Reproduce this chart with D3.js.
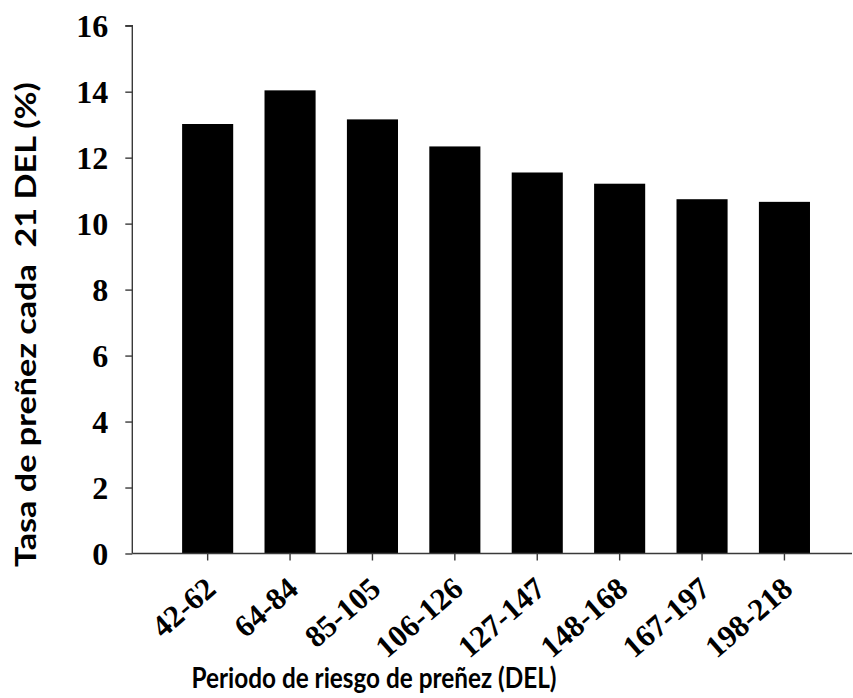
<!DOCTYPE html>
<html>
<head>
<meta charset="utf-8">
<script src="https://cdn.jsdelivr.net/npm/d3@7"></script>
<style>
  html, body { margin: 0; padding: 0; background: #fff; }
  svg { display: block; }
</style>
</head>
<body>
<svg id="chart" width="853" height="698"></svg>
<script>
const categories = ["42-62", "64-84", "85-105", "106-126", "127-147", "148-168", "167-197", "198-218"];
const values = [13.02, 14.04, 13.16, 12.34, 11.55, 11.21, 10.74, 10.66];
const yTicks = [0, 2, 4, 6, 8, 10, 12, 14, 16];
const yTitle = "Tasa de preñez cada  21 DEL (%)";
const xTitle = "Periodo de riesgo de preñez (DEL)";

const svg = d3.select("#chart");
const axisX0 = 132.3, axisXEnd = 852;
const yTop = 25.7, yBottom = 553.5;

const x = d3.scaleBand().domain(categories).range([150.8, 841.3]).paddingInner(0.38).paddingOuter(0.38);
const y = d3.scaleLinear().domain([0, 16]).range([yBottom, yTop]);

const lineColor = "#3a3a3a";

// bars
svg.append("g").selectAll("rect").data(values).join("rect")
  .attr("x", (d, i) => x(categories[i]))
  .attr("y", d => y(d))
  .attr("width", x.bandwidth())
  .attr("height", d => y(0) - y(d))
  .attr("fill", "#000");

// y axis
const yAxis = svg.append("g").attr("transform", `translate(${axisX0},0)`)
  .call(d3.axisLeft(y).tickValues(yTicks).tickSize(7).tickPadding(17).tickFormat(d3.format("d")));
yAxis.attr("font-size", null).attr("font-family", null);
yAxis.select(".domain").attr("stroke", lineColor).attr("stroke-width", 1.4).attr("d", `M-7,${yTop}H0V${yBottom}`);
yAxis.selectAll(".tick line").attr("stroke", lineColor).attr("stroke-width", 1.4);
yAxis.selectAll(".tick text")
  .attr("fill", "#000")
  .attr("font-family", "'Liberation Serif', 'Times New Roman', serif")
  .attr("font-weight", "bold")
  .attr("font-size", 32)
  .attr("dy", "0.34em");

// x axis
const xAxis = svg.append("g").attr("transform", `translate(0,${yBottom})`)
  .call(d3.axisBottom(x).tickSize(7).tickPadding(0));
xAxis.attr("font-size", null).attr("font-family", null);
xAxis.select(".domain").attr("stroke", lineColor).attr("stroke-width", 1.4).attr("d", `M${axisX0},0H${axisXEnd}`);
xAxis.selectAll(".tick line").attr("stroke", lineColor).attr("stroke-width", 1.4);
xAxis.selectAll(".tick text")
  .attr("fill", "#000")
  .attr("font-family", "'Liberation Serif', 'Times New Roman', serif")
  .attr("font-weight", "bold")
  .attr("font-size", 31)
  .attr("text-anchor", "end")
  .attr("x", 0).attr("y", 0).attr("dy", 0)
  .attr("transform", "translate(10,38) rotate(-41)");

// axis titles
const titleFont = "Lato, 'Open Sans', sans-serif";
svg.append("text")
  .attr("transform", "translate(36,324.5) rotate(-90)")
  .attr("text-anchor", "middle")
  .attr("font-family", titleFont)
  .attr("font-weight", "bold")
  .attr("font-size", 29)
  .attr("textLength", 485)
  .attr("lengthAdjust", "spacingAndGlyphs")
  .style("white-space", "pre")
  .attr("fill", "#000")
  .text(yTitle);

svg.append("text")
  .attr("x", 374).attr("y", 688)
  .attr("text-anchor", "middle")
  .attr("font-family", titleFont)
  .attr("font-weight", "bold")
  .attr("font-size", 29)
  .attr("textLength", 365)
  .attr("lengthAdjust", "spacingAndGlyphs")
  .attr("fill", "#000")
  .text(xTitle);
</script>
</body>
</html>
